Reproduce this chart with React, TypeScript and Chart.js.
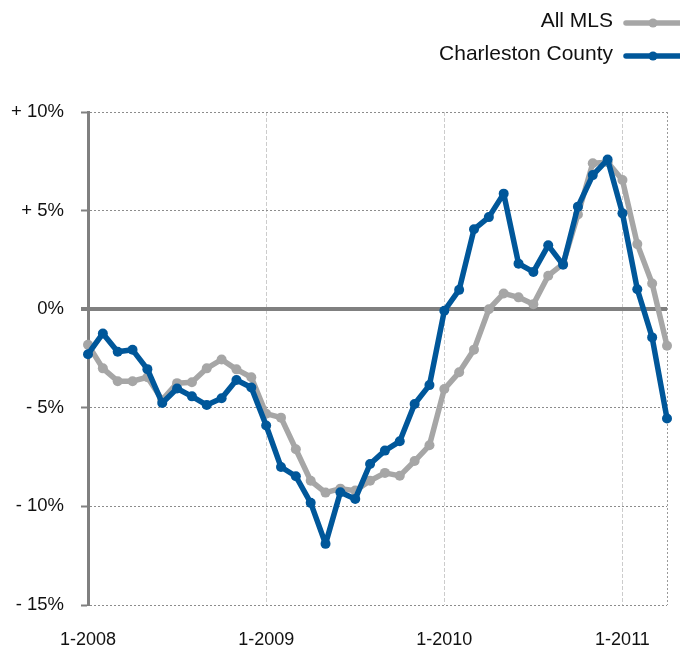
import React, { useEffect, useRef } from "react";
import { Chart, registerables } from "chart.js";

Chart.register(...registerables);

const years = [2008, 2009, 2010, 2011];
const months: string[] = [];
for (const y of years) {
  for (let m = 1; m <= 12; m++) {
    if (y === 2011 && m > 4) break;
    months.push(`${m}-${y}`);
  }
}

const allMLS = [
  -1.8, -3.0, -3.65, -3.65, -3.45, -4.6, -3.75, -3.7, -3.0, -2.55, -3.05, -3.45,
  -5.3, -5.5, -7.1, -8.7, -9.3, -9.1, -9.2, -8.7, -8.3, -8.45, -7.7, -6.9,
  -4.05, -3.2, -2.05, 0.0, 0.8, 0.6, 0.25, 1.7, 2.3, 4.8, 7.4, 7.45,
  6.55, 3.3, 1.3, -1.85,
];

const charleston = [
  -2.28, -1.23, -2.16, -2.06, -3.04, -4.76, -4.02, -4.42, -4.86, -4.52, -3.59, -3.97,
  -5.9, -8.0, -8.47, -9.82, -11.9, -9.28, -9.62, -7.85, -7.17, -6.7, -4.81, -3.85,
  -0.08, 0.98, 4.05, 4.67, 5.86, 2.31, 1.89, 3.24, 2.25, 5.2, 6.8, 7.59,
  4.86, 1.01, -1.43, -5.54,
];

const seriesNames = ["All MLS", "Charleston County"];
const yTickLabels: Record<string, string> = {
  "10": "+ 10%",
  "5": "+ 5%",
  "0": "0%",
  "-5": "- 5%",
  "-10": "- 10%",
  "-15": "- 15%",
};

const GRAY = "#a6a6a6";
const BLUE = "#00579a";
const FONT = "'Liberation Sans', Arial, Helvetica, sans-serif";

const legendPlugin = {
  id: "customLegend",
  afterDraw(chart: any) {
    const ctx = chart.ctx;
    const items = [
      { name: seriesNames[0], color: GRAY, base: 27, ly: 23 },
      { name: seriesNames[1], color: BLUE, base: 60, ly: 56 },
    ];
    ctx.save();
    for (const it of items) {
      ctx.font = `21px ${FONT}`;
      ctx.fillStyle = "#111";
      ctx.textAlign = "right";
      ctx.textBaseline = "alphabetic";
      ctx.fillText(it.name, 613, it.base);
      ctx.strokeStyle = it.color;
      ctx.lineWidth = 5.5;
      ctx.lineCap = "round";
      ctx.beginPath();
      ctx.moveTo(626, it.ly);
      ctx.lineTo(684, it.ly);
      ctx.stroke();
      ctx.fillStyle = it.color;
      ctx.beginPath();
      ctx.arc(653, it.ly, 4.5, 0, Math.PI * 2);
      ctx.fill();
    }
    ctx.restore();
  },
};

export default function App() {
  const ref = useRef<HTMLCanvasElement>(null);
  useEffect(() => {
    if (!ref.current) return;
    const chart = new Chart(ref.current, {
      type: "line",
      data: {
        labels: months,
        datasets: [
          {
            label: seriesNames[1],
            data: charleston,
            borderColor: BLUE,
            backgroundColor: BLUE,
            borderWidth: 5.5,
            pointRadius: 5,
            pointBorderWidth: 0,
            pointBackgroundColor: BLUE,
            tension: 0,
            borderJoinStyle: "round",
            borderCapStyle: "round",
          },
          {
            label: seriesNames[0],
            data: allMLS,
            borderColor: GRAY,
            backgroundColor: GRAY,
            borderWidth: 5.5,
            pointRadius: 5,
            pointBorderWidth: 0,
            pointBackgroundColor: GRAY,
            tension: 0,
            borderJoinStyle: "round",
            borderCapStyle: "round",
          },
        ],
      },
      options: {
        responsive: false,
        animation: false,
        layout: { padding: { top: 112, right: 13, left: 0, bottom: 0 } },
        plugins: {
          legend: { display: false },
          tooltip: { enabled: false },
        },
        scales: {
          x: {
            type: "category",
            offset: false,
            grid: {
              color: (c: any) =>
                c.index === 39 ? "#9a9a9a" : [12, 24, 36].includes(c.index) ? "#cccccc" : "rgba(0,0,0,0)",
              lineWidth: 1,
              drawTicks: false,
            },
            border: { display: false, dash: (c: any) => (c.index === 39 ? [2, 2] : [4, 2]) },
            ticks: {
              autoSkip: false,
              maxRotation: 0,
              padding: 24,
              color: "#111",
              font: { family: FONT, size: 18 },
              callback: (v: any, i: number) => (i % 12 === 0 ? months[i] : ""),
            },
            afterFit: (s: any) => {
              s.height = 41;
              s.paddingLeft = 0;
              s.paddingRight = 0;
            },
          },
          y: {
            min: -15,
            max: 10,
            ticks: {
              stepSize: 5,
              padding: 17,
              color: "#111",
              font: { family: FONT, size: 18.5 },
              callback: (v: any) => yTickLabels[String(v)] ?? "",
            },
            grid: {
              color: (c: any) => (c.tick && c.tick.value === 0 ? "#808080" : "#8c8c8c"),
              lineWidth: (c: any) => (c.tick && c.tick.value === 0 ? 4 : 1),
              drawTicks: true,
              tickLength: 7,
              tickColor: "#808080",
              tickWidth: (c: any) => (c.tick && c.tick.value === 0 ? 4 : 2),
            },
            border: {
              display: true,
              color: "#808080",
              width: 3,
              dash: (c: any) => (c.tick && c.tick.value === 0 ? [] : [2, 2]),
            },
            afterFit: (s: any) => {
              s.width = 88;
              s.paddingTop = 0;
              s.paddingBottom = 0;
            },
          },
        },
      },
      plugins: [legendPlugin],
    } as any);
    return () => chart.destroy();
  }, []);
  return (
    <div style={{ position: "absolute", left: 0, top: 0, width: 680, height: 646, background: "#fff" }}>
      <canvas ref={ref} width={680} height={646} style={{ display: "block" }} />
    </div>
  );
}
